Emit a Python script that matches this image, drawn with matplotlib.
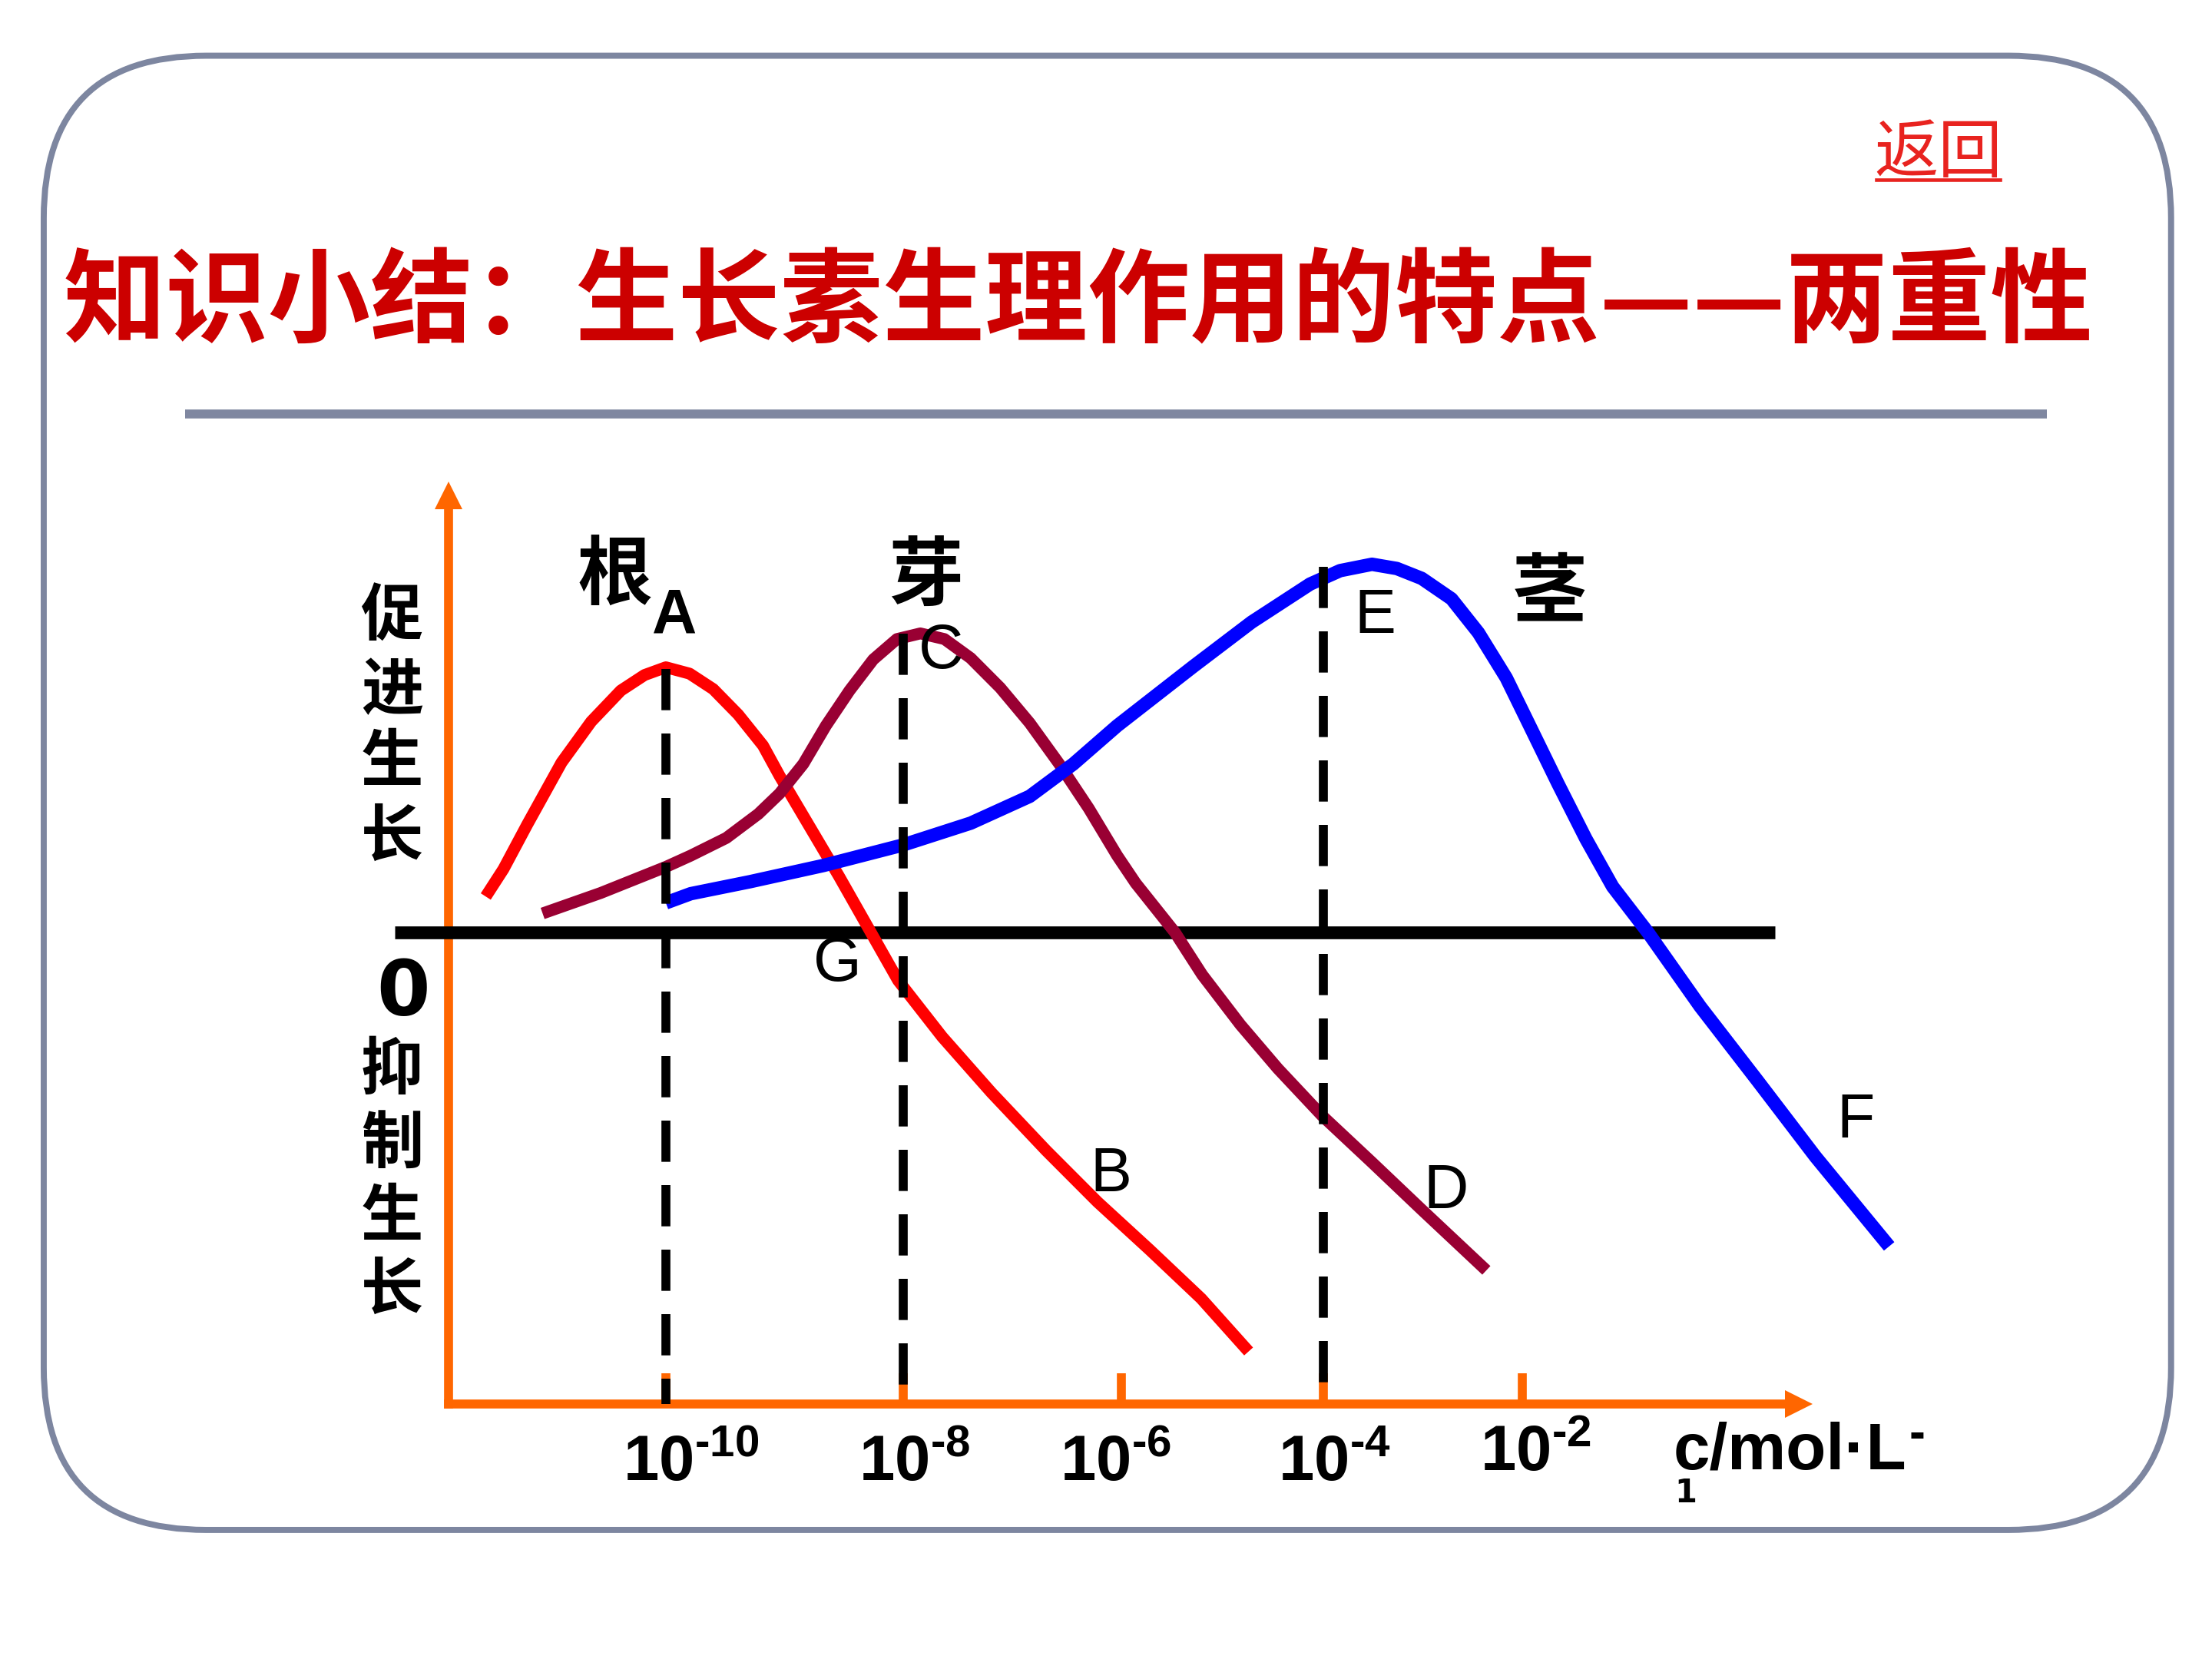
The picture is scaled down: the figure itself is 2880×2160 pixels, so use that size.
import numpy as np
import matplotlib
matplotlib.use('Agg')
import matplotlib.pyplot as plt
from matplotlib.patches import FancyBboxPatch
from matplotlib.transforms import ScaledTranslation

plt.rcParams['font.family'] = ['Noto Sans CJK SC', 'DejaVu Sans']
plt.rcParams['mathtext.fontset'] = 'custom'
plt.rcParams['mathtext.rm'] = 'Liberation Sans'
plt.rcParams['mathtext.bf'] = 'Liberation Sans:bold'

# concentration axis, log10(c / mol·L-1)
tick_logc = [-10, -8, -6, -4, -2]
tick_labels = ['$\\mathbf{10^{\u2010' + str(-t) + '}}$' for t in tick_logc]

# growth effect (>0 promotes, <0 inhibits) against log10(c)
root_x = [-11.52, -11.37, -11.17, -10.88, -10.63, -10.38, -10.18, -10.0, -9.80, -9.60, -9.39,
          -9.18, -9.04, -8.79, -8.54, -8.29, -8.04, -7.64, -7.19, -6.69, -6.22, -5.72, -5.21, -4.74]
root_y = [0.51, 0.90, 1.53, 2.41, 2.99, 3.43, 3.65, 3.76, 3.67, 3.45, 3.09,
          2.65, 2.22, 1.51, 0.80, 0.06, -0.68, -1.48, -2.27, -3.09, -3.82, -4.50, -5.19, -5.94]

bud_x = [-11.04, -10.55, -10.0, -9.79, -9.49, -9.22, -9.04, -8.84, -8.65, -8.45, -8.25, -8.05,
         -7.84, -7.62, -7.38, -7.11, -6.84, -6.57, -6.30, -6.04, -5.86, -5.47, -5.20, -4.82,
         -4.45, -4.01, -3.51, -3.01, -2.36]
bud_y = [0.27, 0.56, 0.93, 1.09, 1.34, 1.68, 1.97, 2.39, 2.93, 3.43, 3.87, 4.16,
         4.24, 4.16, 3.89, 3.47, 2.97, 2.39, 1.76, 1.09, 0.70, 0.0, -0.60, -1.31,
         -1.93, -2.60, -3.26, -3.93, -4.79]

stem_x = [-10.0, -9.79, -9.29, -8.67, -8.0, -7.38, -6.84, -6.44, -6.04, -5.29, -4.71,
          -4.13, -3.83, -3.51, -3.26, -3.01, -2.71, -2.44, -2.16, -1.91, -1.64, -1.36, -1.09,
          -0.73, -0.21, 0.36, 0.95, 1.69]
stem_y = [0.42, 0.55, 0.72, 0.95, 1.24, 1.55, 1.93, 2.39, 2.93, 3.77, 4.40,
          4.94, 5.13, 5.22, 5.16, 5.02, 4.73, 4.25, 3.61, 2.89, 2.11, 1.33, 0.65,
          -0.01, -1.05, -2.09, -3.18, -4.45]

# optimum concentrations (dashed guides) and where the guides start
opt_x = [-10, -8, -4]
opt_top = [3.74, 4.24, 5.18]

zero_x = [-12.29, 0.54]

pt_names = ['A', 'C', 'E', 'G', 'B', 'D', 'F']
pt_x = [-9.93, -7.65, -3.48, -8.55, -6.10, -2.77, 1.35]
pt_y = [4.48, 3.98, 4.48, -0.46, -3.44, -3.68, -2.68]

organ_names = ['根', '芽', '茎']
organ_x = [-10.43, -7.79, -1.72]
organ_y = [5.04, 5.04, 4.80]

title = '知识小结：生长素生理作用的特点——两重性'
promote_txt = '促进生长'
inhibit_txt = '抑制生长'

ORANGE = '#ff6600'

# the hand-drawn axis is not evenly spaced: map log10(c) to position on the slide
knot_c = [-30, -10, -8, -6, -4, -2, 20]
knot_p = [-1208, 472, 640, 795, 938, 1079, 2630]


def fwd(v):
    return np.interp(v, knot_c, knot_p)


def inv(p):
    return np.interp(p, knot_p, knot_c)


fig = plt.figure(figsize=(9.6, 7.2), dpi=300)

# slide decoration, coordinates in slide pixels (1568 x 1176)
deco = fig.add_axes([0, 0, 1, 1], zorder=0)
deco.set_xlim(0, 1568)
deco.set_ylim(1176, 0)
deco.axis('off')
deco.add_patch(FancyBboxPatch((31, 39.5), 1508, 1045, boxstyle='round,pad=0,rounding_size=115',
                              fill=False, ec='#7d86a0', lw=1.9))
deco.plot([131, 1451], [293.5, 293.5], color='#7f87a0', lw=2.8, solid_capstyle='butt')
deco.text(764.5, 237, title, ha='center', va='baseline', fontsize=32,
          fontweight='bold', color='#cc0000')
deco.text(1374, 122, '返回', ha='center', va='baseline', fontsize=20, color='#e8231f')
deco.plot([1330, 1418], [127.5, 127.5], color='#e8231f', lw=1.1)

for ch, y in zip(promote_txt, [437, 490, 541, 594]):
    deco.text(278, y, ch, ha='center', va='center', fontsize=19.5, fontweight='bold')
for ch, y in zip(inhibit_txt, [759, 811, 863, 915]):
    deco.text(278, y, ch, ha='center', va='center', fontsize=19.5, fontweight='bold')
deco.text(286, 705, '0', ha='center', va='center', fontsize=24, fontweight='bold',
          family='DejaVu Sans')

deco.text(1186, 1041, 'c/mol·L', ha='left', va='baseline', fontsize=20.5,
          fontweight='bold', family='Liberation Sans')
deco.text(1359, 1027, '-', ha='center', va='baseline', fontsize=15,
          fontweight='bold', family='Liberation Sans')
deco.text(1195, 1065, '1', ha='center', va='baseline', fontsize=10,
          fontweight='bold', family='DejaVu Sans')

# chart axes
ax = fig.add_axes([318 / 1568, 1 - 995 / 1176, (1275 - 318) / 1568, (995 - 351) / 1176], zorder=1)
ax.patch.set_alpha(0)
ax.set_xscale('function', functions=(fwd, inv))
ax.set_xlim(inv(318), inv(1275))
ax.set_ylim(-6.68, 6.2)
for s in ['top', 'right']:
    ax.spines[s].set_visible(False)
for s in ['left', 'bottom']:
    ax.spines[s].set_color(ORANGE)
    ax.spines[s].set_linewidth(2.8)
ax.set_yticks([])
ax.set_xticks(tick_logc)
ax.set_xticklabels(tick_labels, fontsize=20)
ax.xaxis.set_minor_locator(matplotlib.ticker.NullLocator())
ax.tick_params(axis='x', direction='in', length=9.6, width=2.8, color=ORANGE, pad=8)
label_dx = [7.9, 3.7, -1.8, 3.5, 4.2]
label_dy = [0, 0, 0, 0, 3.1]
for lbl, dx, dy in zip(ax.get_xticklabels(), label_dx, label_dy):
    lbl.set_transform(lbl.get_transform() + ScaledTranslation(dx / 72, dy / 72, fig.dpi_scale_trans))

ax.plot([1], [0], marker='>', ms=8.6, mew=0, color=ORANGE, transform=ax.transAxes, clip_on=False)
ax.plot([0], [1], marker='^', ms=8.6, mew=0, color=ORANGE, transform=ax.transAxes, clip_on=False)

ax.plot(zero_x, [0, 0], color='black', lw=4, solid_capstyle='butt', clip_on=False, zorder=3)

ax.plot(root_x, root_y, color='#ff0000', lw=3.7, solid_capstyle='butt', solid_joinstyle='round', zorder=4)
ax.plot(bud_x, bud_y, color='#990033', lw=3.7, solid_capstyle='butt', solid_joinstyle='round', zorder=4)
ax.plot(stem_x, stem_y, color='#0000ff', lw=4.2, solid_capstyle='butt', solid_joinstyle='round',
        zorder=4, clip_on=False)

for x, top in zip(opt_x, opt_top):
    ax.plot([x, x], [top, -6.68], color='black', lw=2.8, ls=(0, (4.6, 2.6)), zorder=5)

for name, x, y in zip(pt_names, pt_x, pt_y):
    ax.text(x, y, name, ha='center', va='center', fontsize=19.4, family='Liberation Sans',
            fontweight='bold' if name == 'A' else 'normal', zorder=6, clip_on=False)
for name, x, y in zip(organ_names, organ_x, organ_y):
    ax.text(x, y, name, ha='center', va='center', fontsize=23.5, fontweight='bold', zorder=6)

fig.savefig('out.png', dpi=300)
